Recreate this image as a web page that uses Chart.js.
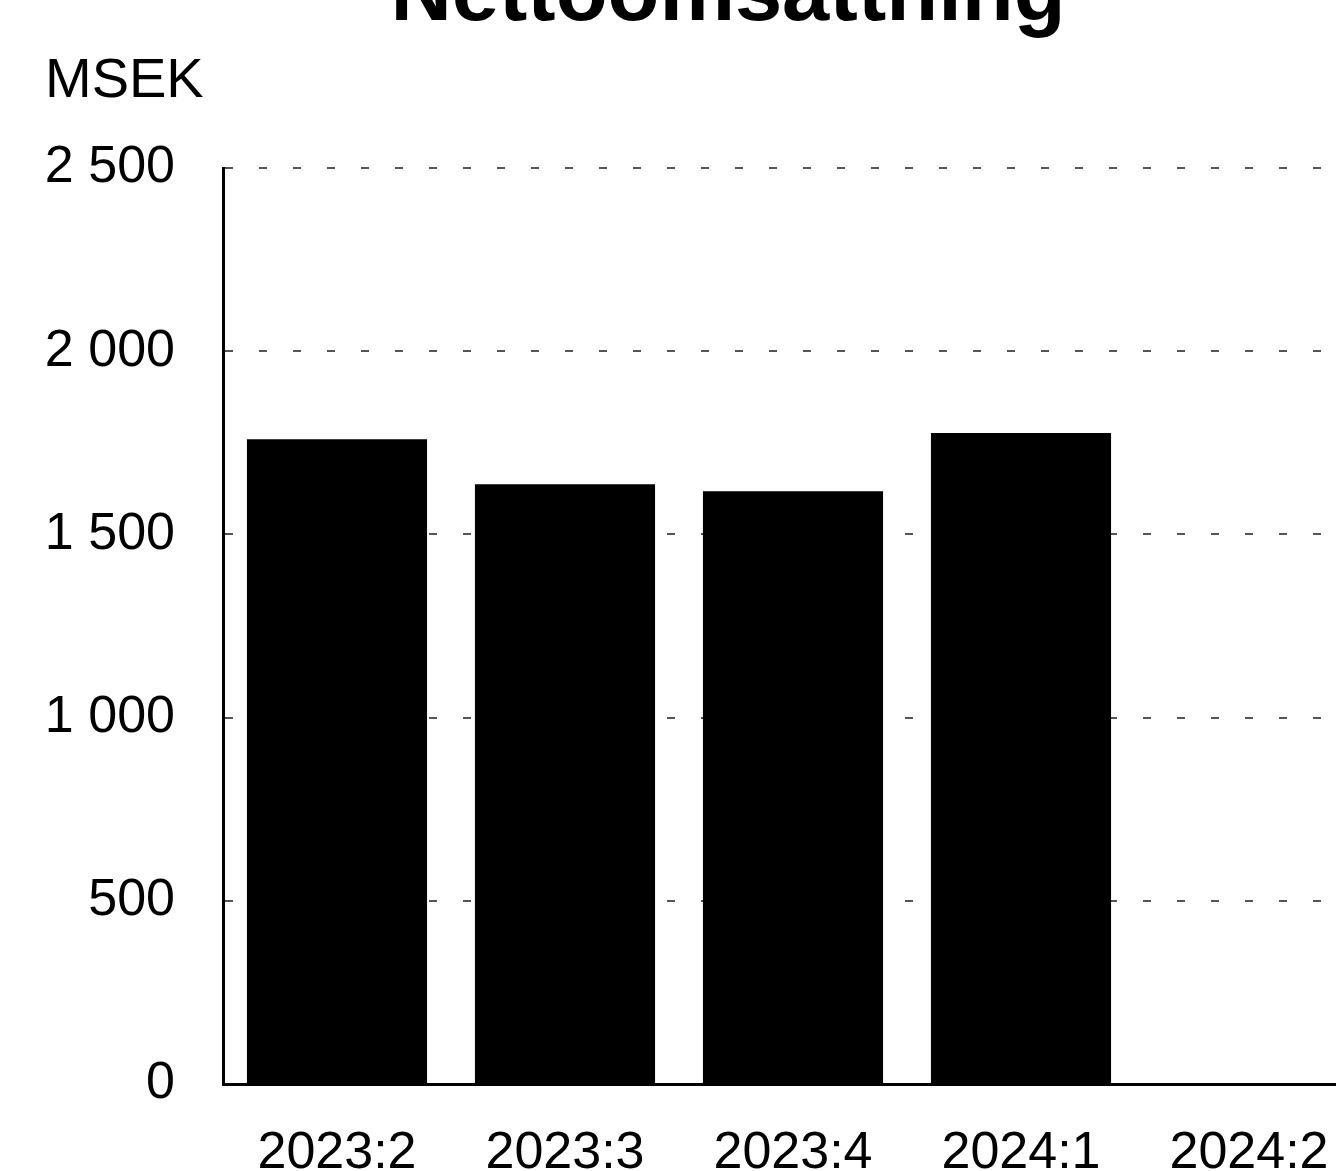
<!DOCTYPE html>
<html lang="sv">
<head>
<meta charset="utf-8">
<title>Nettoomsättning</title>
<script src="https://cdn.jsdelivr.net/npm/chart.js@4/dist/chart.umd.min.js"></script>
<style>
    html, body { margin: 0; padding: 0; background: #fff; overflow: hidden; }
    body { width: 1336px; height: 1171px; position: relative; }
    #wrap { position: absolute; left: 0; top: 0; width: 1363px; height: 1171px; }
    #title {
        position: absolute; left: 728px; top: -52px; transform: translateX(-50%);
        margin: 0; white-space: nowrap;
        font: bold 85px "Liberation Sans", Arial, sans-serif; line-height: 1; color: #000;
    }
    #unit {
        position: absolute; left: 45px; top: 50px;
        font: 56px "Liberation Sans", Arial, sans-serif; line-height: 1; color: #000;
    }
</style>
</head>
<body>
<div id="wrap"><canvas id="chart-netto"></canvas></div>
<h1 id="title">Nettoomsättning</h1>
<div id="unit">MSEK</div>
<script>
const INK = '#000';
const FONT = '"Liberation Sans", Arial, sans-serif';

const kvartal = ['2023:2', '2023:3', '2023:4', '2024:1', '2024:2'];
const nettoomsattning = [1760, 1637, 1618, 1777, null];
const yTicks = [0, 500, 1000, 1500, 2000, 2500];

const formatMsek = (v) => String(v).replace(/\B(?=(\d{3})+(?!\d))/g, ' ');

function renderNetto() {
    const canvas = document.getElementById('chart-netto');
    if (!canvas) return;

    new Chart(canvas, {
        type: 'bar',
        data: {
            labels: kvartal,
            datasets: [{
                label: 'Nettoomsättning',
                data: nettoomsattning,
                backgroundColor: INK,
                barPercentage: 0.79,
                categoryPercentage: 1,
            }],
        },
        options: {
            responsive: true,
            maintainAspectRatio: false,
            animation: false,
            layout: { padding: { left: 0, right: 0, top: 168, bottom: 0 } },
            plugins: {
                legend: { display: false },
                tooltip: { enabled: false },
            },
            scales: {
                x: {
                    grid: { display: false },
                    border: { display: true, color: INK, width: 3 },
                    ticks: { color: INK, font: { family: FONT, size: 52 }, padding: 30, maxRotation: 0 },
                    afterFit: (scale) => { scale.height = 87; },
                },
                y: {
                    min: yTicks[0],
                    max: yTicks[yTicks.length - 1],
                    afterBuildTicks: (scale) => { scale.ticks = yTicks.map((v) => ({ value: v })); },
                    grid: { color: '#555', lineWidth: 2, drawTicks: false },
                    border: { display: true, color: INK, width: 3, dash: [8, 26] },
                    ticks: {
                        color: INK,
                        font: { family: FONT, size: 52 },
                        padding: 48,
                        callback: (v) => formatMsek(v),
                    },
                    afterFit: (scale) => { scale.width = 223; },
                },
            },
        },
    });
}

document.addEventListener('DOMContentLoaded', renderNetto);
</script>
</body>
</html>
